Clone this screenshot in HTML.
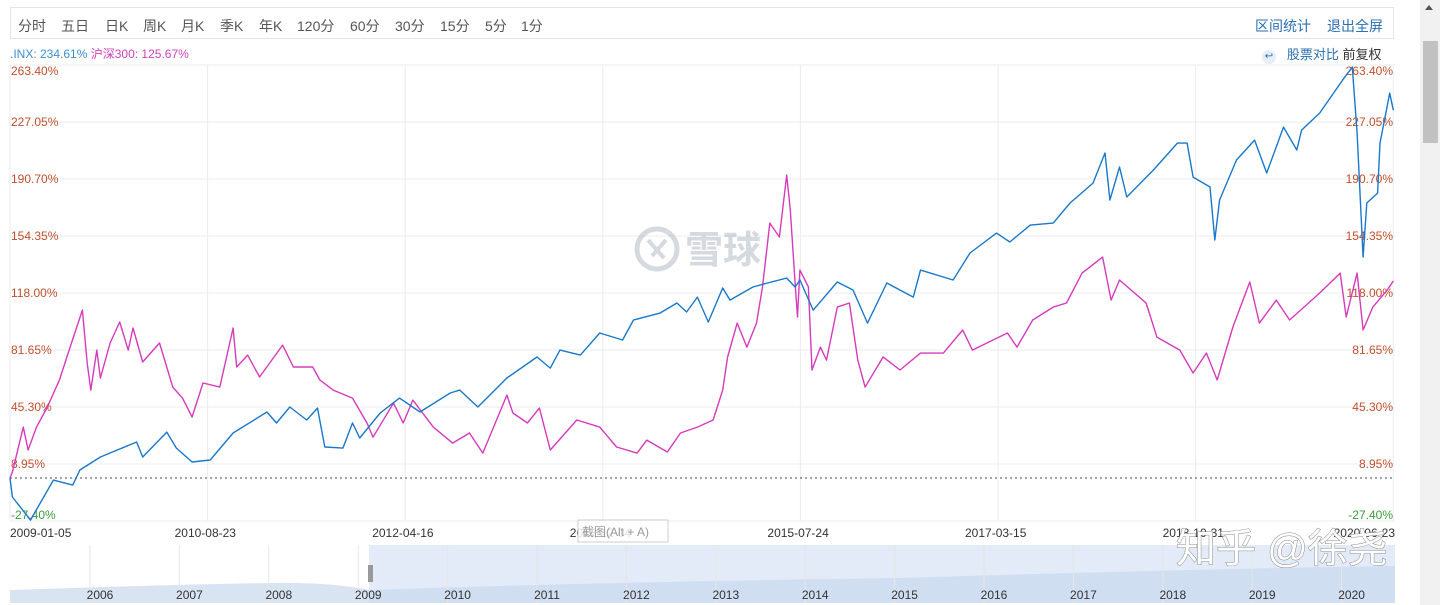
<!DOCTYPE html>
<html><head><meta charset="utf-8">
<style>
body{margin:0;width:1440px;height:605px;background:#fff;overflow:hidden;font-family:"Liberation Sans","Noto Sans CJK SC",sans-serif;position:relative}
.abs{position:absolute}
#toolbar{left:10px;top:7px;width:1384px;height:32px;border:1px solid #e4e4e4;box-sizing:border-box}
.tb{position:absolute;top:8px;font-size:14px;color:#555}
.lk{position:absolute;top:8px;font-size:14px;color:#2a6fb0}
</style></head><body>
<div id="toolbar" class="abs">
<span class="tb" style="left:7px">分时</span>
<span class="tb" style="left:50px">五日</span>
<span class="tb" style="left:94px">日K</span>
<span class="tb" style="left:132px">周K</span>
<span class="tb" style="left:170px">月K</span>
<span class="tb" style="left:209px">季K</span>
<span class="tb" style="left:248px">年K</span>
<span class="tb" style="left:286px">120分</span>
<span class="tb" style="left:339px">60分</span>
<span class="tb" style="left:384px">30分</span>
<span class="tb" style="left:429px">15分</span>
<span class="tb" style="left:474px">5分</span>
<span class="tb" style="left:510px">1分</span>
<span class="lk" style="left:1244px">区间统计</span>
<span class="lk" style="left:1316px">退出全屏</span>
</div>
<div class="abs" style="left:10px;top:45px;font-size:12px"><span style="color:#3a8fd0">.INX: 234.61%</span> <span style="color:#d040b8">沪深300: 125.67%</span></div>
<div class="abs" style="left:1262px;top:44px;font-size:13px;color:#333;white-space:nowrap"><span style="display:inline-block;width:14px;height:14px;border-radius:7px;background:#e6eef8;color:#2a6fb0;font-size:10px;text-align:center;line-height:14px">↩</span>&nbsp;&nbsp;&nbsp;<span style="color:#2a6fb0">股票对比</span> <span>前复权</span></div>
<div class="abs" style="left:1420px;top:0;width:20px;height:605px;background:#f1f1f1">
<div class="abs" style="left:5px;top:5px;width:0;height:0;border-left:4px solid transparent;border-right:4px solid transparent;border-bottom:5px solid #555"></div>
<div class="abs" style="left:3px;top:41px;width:15px;height:102px;background:#c1c1c1"></div>
</div>
<svg class="abs" style="left:0;top:0" width="1420" height="605" id="chart"></svg>
<script>
const yTicks=[263.40,227.05,190.70,154.35,118.00,81.65,45.30,8.95,-27.40];
const dateLabels=["2009-01-05","2010-08-23","2012-04-16","2013-12-04","2015-07-24","2017-03-15","2018-10-31","2020-06-23"];
const navYears=[2006,2007,2008,2009,2010,2011,2012,2013,2014,2015,2016,2017,2018,2019,2020];
const inxT=[2009.01,2009.03,2009.18,2009.37,2009.53,2009.59,2009.76,2009.90,2010.06,2010.11,2010.31,2010.39,2010.52,2010.67,2010.86,2011.14,2011.22,2011.33,2011.47,2011.56,2011.62,2011.77,2011.85,2011.91,2012.08,2012.24,2012.41,2012.66,2012.74,2012.89,2013.13,2013.38,2013.49,2013.57,2013.74,2013.90,2014.09,2014.18,2014.40,2014.54,2014.62,2014.71,2014.80,2014.92,2014.98,2015.17,2015.29,2015.45,2015.52,2015.56,2015.67,2015.87,2016.00,2016.12,2016.28,2016.50,2016.56,2016.83,2016.97,2017.19,2017.30,2017.47,2017.66,2017.80,2017.99,2018.09,2018.13,2018.21,2018.27,2018.49,2018.69,2018.77,2018.82,2018.96,2019.00,2019.04,2019.18,2019.33,2019.43,2019.57,2019.68,2019.72,2019.87,2020.06,2020.14,2020.18,2020.23,2020.26,2020.35,2020.37,2020.45,2020.48];
const inxV=[0,-12.1,-26.8,-1.3,-4.5,5.1,13.4,17.9,23.0,13.4,29.3,19.1,10.2,11.5,28.7,42.1,35.1,45.3,37.0,44.6,19.8,19.1,35.1,25.5,41.5,51.0,42.1,54.2,56.1,45.3,63.8,77.2,70.1,81.6,78.4,92.5,88.0,100.8,105.2,111.6,105.9,115.4,99.5,121.2,113.5,121.8,124.4,127.5,121.8,126.3,107.1,125.0,119.9,98.8,124.4,115.4,132.6,126.3,143.5,156.2,150.5,161.3,162.6,175.4,188.1,207.3,177.3,198.3,179.2,196.4,213.6,213.6,191.9,185.6,151.8,177.3,202.8,215.5,194.5,223.8,209.2,221.9,232.8,253.8,262.1,220.0,140.9,175.4,181.7,213.6,245.5,234.6];
const csiT=[2009.01,2009.03,2009.12,2009.16,2009.23,2009.32,2009.42,2009.52,2009.61,2009.65,2009.68,2009.73,2009.76,2009.84,2009.92,2009.99,2010.03,2010.11,2010.25,2010.36,2010.44,2010.52,2010.61,2010.75,2010.86,2010.89,2010.98,2011.08,2011.27,2011.36,2011.52,2011.58,2011.69,2011.85,2011.97,2012.02,2012.19,2012.27,2012.35,2012.52,2012.68,2012.82,2012.93,2013.13,2013.18,2013.30,2013.40,2013.49,2013.71,2013.90,2014.04,2014.21,2014.29,2014.46,2014.57,2014.71,2014.84,2014.92,2014.96,2015.04,2015.12,2015.20,2015.25,2015.31,2015.39,2015.45,2015.48,2015.52,2015.54,2015.56,2015.63,2015.66,2015.73,2015.78,2015.87,2015.97,2016.04,2016.10,2016.25,2016.39,2016.56,2016.75,2016.91,2016.99,2017.28,2017.36,2017.49,2017.66,2017.77,2017.90,2018.07,2018.14,2018.21,2018.43,2018.52,2018.71,2018.82,2018.93,2019.02,2019.15,2019.29,2019.37,2019.51,2019.62,2019.87,2020.04,2020.09,2020.18,2020.23,2020.31,2020.43,2020.48];
const csiV=[0,3.8,32.5,17.9,32.5,45.3,62.5,86.1,107.1,73.3,56.1,81.6,63.8,86.1,99.5,81.6,95.7,74.0,86.1,58.0,51.0,38.9,60.6,58.0,95.7,70.8,78.4,64.4,84.8,70.8,70.8,62.5,56.1,51.0,35.1,26.1,47.8,35.1,49.7,32.5,22.3,28.7,15.9,52.9,41.5,35.1,44.6,17.9,37.0,32.5,19.8,15.9,24.2,16.6,28.7,32.5,37.0,56.1,77.2,98.8,83.5,98.8,121.8,162.6,153.7,193.2,170.9,124.4,102.7,132.6,121.8,68.9,83.5,75.2,109.0,111.6,75.2,58.0,77.2,68.9,79.7,79.7,94.4,81.6,92.5,83.5,100.8,109.0,111.6,130.7,140.9,113.5,126.3,111.6,89.9,81.6,67.0,79.7,62.5,96.3,125.0,98.8,113.5,100.8,118.0,130.7,102.7,130.7,94.4,109.0,119.9,125.7];

const svg=document.getElementById('chart');
const NS='http://www.w3.org/2000/svg';
const X0=10,X1=1395,YTOP=65,STEP=57;
const xs=t=>10+(t-2009.01)*120.6;
const ys=v=>YTOP+(263.4-v)/36.35*STEP;
function mk(tag,attrs,parent){const e=document.createElementNS(NS,tag);for(const k in attrs)e.setAttribute(k,attrs[k]);(parent||svg).appendChild(e);return e;}
dateLabels.forEach((d,i)=>{const x=X0+i*197.6;
 const g=mk('line',{x1:x,x2:x,y1:YTOP,y2:521,stroke:'#ececec'});
 
 
 const last=i==dateLabels.length-1;
 const t=mk('text',{x:i==0?10:(last?1395:x-33),y:537,'font-size':12,fill:'#333','text-anchor':last?'end':'start'});t.textContent=d;
 
 
});
yTicks.forEach((v,i)=>{const y=ys(v);
 const g=mk('line',{x1:X0,x2:X1,y1:y,y2:y,stroke:'#ececec'});
 
 
 const col=v<0?'#3b9b3b':'#c0502e';
 const ty=i==0?y+10:(i==yTicks.length-1?y-2:y+4);
 const a=mk('text',{x:11,y:ty,'font-size':12,fill:col});a.textContent=v.toFixed(2)+'%';
 
 
 const b=mk('text',{x:1393,y:ty,'font-size':12,fill:col,'text-anchor':'end'});b.textContent=v.toFixed(2)+'%';
 
 
});
mk('line',{x1:X0,x2:X1,y1:ys(0),y2:ys(0),stroke:'#444','stroke-dasharray':'2,3'});
const wm=mk('g',{opacity:0.35});


mk('circle',{cx:657,cy:249,r:20,fill:'none',stroke:'#8a94a8','stroke-width':5},wm);
mk('path',{d:'M648 240 L664 258 M666 240 L652 256',stroke:'#8a94a8','stroke-width':4,fill:'none'},wm);
const wt=mk('text',{x:685,y:263,'font-size':38,'font-weight':'bold',fill:'#8a94a8'},wm);wt.textContent='雪球';
function series(T,V,col,name){const d=T.map((t,i)=>(i?'L':'M')+xs(t).toFixed(1)+' '+ys(V[i]).toFixed(1)).join(' ');
 const p=mk('path',{d:d,fill:'none',stroke:col,'stroke-width':1.4,'stroke-linejoin':'round'});
 
 }
series(csiT,csiV,'#d63bbd','csi300-line');
series(inxT,inxV,'#1a78cc','inx-line');
const nav=mk('g',{});


mk('rect',{x:X0,y:545,width:X1-X0,height:58,fill:'#fff'},nav);
mk('rect',{x:369,y:545,width:X1-369,height:58,fill:'#e2ebf7'},nav);
mk('path',{d:'M10 590 Q150 585 270 583 Q330 582 369 590 Q600 582 900 578 Q1150 570 1395 566 L1395 603 L10 603 Z',fill:'#c9d8ee',opacity:0.7},nav);
navYears.forEach((yr,i)=>{const x=100+i*89.4;
 mk('line',{x1:x-10,x2:x-10,y1:545,y2:603,stroke:'#e6e6e6'},nav);
 const t=mk('text',{x:x,y:599,'font-size':12,fill:'#333','text-anchor':'middle'},nav);t.textContent=yr;
 
 
});
const h=mk('rect',{x:368,y:565,width:5,height:17,fill:'#999'},nav);


const tip=mk('g',{});


mk('rect',{x:578,y:520,width:90,height:22,fill:'#fff',stroke:'#ccc','fill-opacity':0.85},tip);
const tt=mk('text',{x:582,y:536,'font-size':12,fill:'#999'},tip);tt.textContent='截图(Alt + A)';
const zw=mk('text',{x:1176,y:562,'font-size':40,fill:'#fff',stroke:'#888','stroke-width':1,'paint-order':'stroke'});zw.textContent='知乎 @徐尧';


</script>
</body></html>
